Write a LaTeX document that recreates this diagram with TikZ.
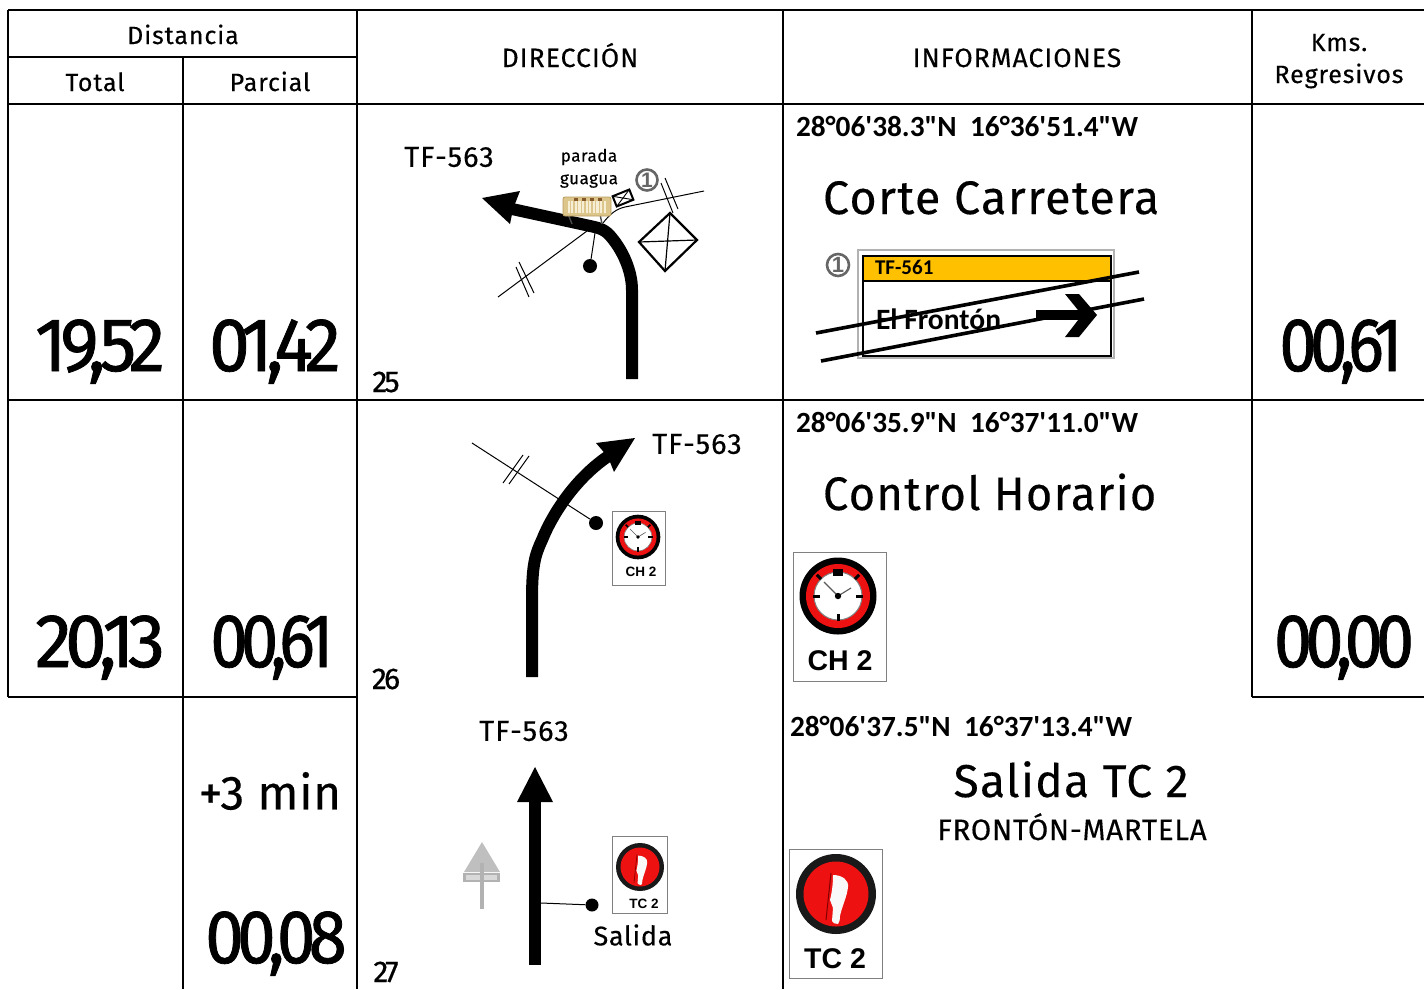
\documentclass[tikz,border=0pt]{standalone}
\usepackage{fontspec}
\setmainfont{Fira Sans}
\newfontfamily\carlito{Carlito}[BoldFont={Carlito Bold}]
\newfontfamily\arialf{Liberation Sans}
\newcommand{\fsz}[1]{\fontsize{#1}{#1}\selectfont}
\definecolor{bustan}{HTML}{DCC68C}
\definecolor{busedge}{HTML}{B89C5C}
\definecolor{busglass}{HTML}{F6EFD6}
\definecolor{signyellow}{HTML}{FFC000}
\definecolor{signred}{HTML}{EE1111}
\newcommand{\clockmark}[3]{%
\begin{scope}[shift={(#1,#2)},scale=#3]
 \fill[black] (0,0) circle (38.5);
 \fill[signred] (0,0) circle (32);
 \fill[white] (0,0) circle (24);
 \draw[black!50,line width=1pt*#3] (0,0) circle (24);
 \foreach \a in {0,180,270} {\draw[line width=3pt*#3,rotate=\a] (18,0) -- (25,0);}
 \foreach \a in {45,135} {\draw[line width=3pt*#3,rotate=\a] (24,0) -- (30,0);}
 \fill[black] (-5,-27.5) rectangle (5,-20);
 \draw[line width=1.1pt*#3,black!65] (0,0) -- (-14,-14);
 \draw[line width=1.1pt*#3,black!65] (0,0) -- (13,-8);
 \fill[black] (0,0) circle (3.2);
\end{scope}}
\newcommand{\tcmark}[3]{%
\begin{scope}[shift={(#1,#2)},scale=#3]
 \fill[black!90] (0,0) circle (40);
 \fill[signred] (0,0) circle (32.5);
 \fill[white!95!gray] (-3,-19) .. controls (6,-19) and (13,-14) .. (12,-7) .. controls (11,3) and (6,12) .. (4,22) .. controls (4,26) and (3,29) .. (2,30) .. controls (-1,30) and (-3,29) .. (-4,27) -- (-3,14) -- (-6,6) .. controls (-4,-2) and (-3,-10) .. (-3,-19) -- cycle;
 \draw[red!50!black,line width=1pt*#3] (-5,-21) -- (-10,26);
\end{scope}}
\tikzset{
 x=1pt,y=-1pt,
 rule/.style={line width=1.1pt,black},
 txt/.style={inner sep=0pt,outer sep=0pt,font=\fsz{25}},
 head/.style={txt,anchor=base,font=\fsz{25}\addfontfeatures{LetterSpace=3.5,FakeBold=.25}},
 heads/.style={txt,anchor=base,font=\fsz{26.5}\addfontfeatures{LetterSpace=4,FakeBold=.25}},
 road/.style={txt,font=\fsz{29}\addfontfeatures{LetterSpace=3.5,FakeBold=.3}},
 big/.style={txt,anchor=base,font=\fsz{76}\addfontfeatures{LetterSpace=-9,FakeBold=1,FakeStretch=#1}},
 idx/.style={txt,anchor=base,font=\fsz{30}\addfontfeatures{LetterSpace=-9,FakeBold=.7}},
 coord/.style={txt,anchor=west,font=\carlito\bfseries\fsz{29.3}},
 title/.style={txt,anchor=base west,font=\fsz{47}\addfontfeatures{LetterSpace=3,FakeBold=.3,FakeStretch=#1}},
 road line/.style={line width=12pt,black},
 thin/.style={line width=1pt,black},
 dotn/.style={circle,fill=black,inner sep=0pt,minimum size=#1},
 signbox/.style={draw=black!50,line width=1pt,fill=white},
 circnum/.style={circle,draw=black!60,line width=2.6pt,inner sep=0pt,minimum size=#1},
}
\begin{document}
\begin{tikzpicture}
\useasboundingbox (0,0) rectangle (1424,989);
% table rules
\draw[rule] (8,10) -- (1424,10);
\draw[rule] (8,57) -- (357,57);
\draw[rule] (8,104) -- (1424,104);
\draw[rule] (8,400) -- (1424,400);
\draw[rule] (8,697) -- (357,697);
\draw[rule] (1252,697) -- (1424,697);
\draw[rule] (8,10) -- (8,697);
\draw[rule] (183,57) -- (183,989);
\draw[rule] (357,10) -- (357,989);
\draw[rule] (783,10) -- (783,989);
\draw[rule] (1252,10) -- (1252,697);
% headers
\node[head] (hdist) at (183,44) {Distancia};
\node[head] (htot) at (95,91) {Total};
\node[head] (hpar) at (270,91) {Parcial};
\node[heads] (hdir) at (570,67) {DIRECCIÓN};
\node[heads] (hinf) at (1017,67) {INFORMACIONES};
\node[head] (hkms) at (1339,51) {Kms.};
\node[head] (hreg) at (1339,83) {Regresivos};
% big numbers
\node[big=.97] (t1) at (100,371) {19,52};
\node[big=.96] (p1) at (275,371) {01,42};
\node[big=.88] (k1) at (1341,371) {00,61};
\node[big=.98] (t2) at (100,667) {20,13};
\node[big=.88] (p2) at (272,667) {00,61};
\node[big=.90] (k2) at (1344,667) {00,00};
\node[big=.91] (p3) at (276,963) {00,08};
\node[txt,font=\fsz{48}\addfontfeatures{FakeBold=.3,LetterSpace=1}] (plus) at (270,791) {+3 min};
\node[idx] (n25) at (386,392) {25};
\node[idx] (n26) at (386,689) {26};
\node[idx] (n27) at (386,982) {27};
% row 1 direction
\node[road] (r1) at (449,157) {TF-563};
\node[txt,font=\fsz{17}\addfontfeatures{LetterSpace=3,FakeBold=.3}] (par) at (589,157) {parada};
\node[txt,font=\fsz{17}\addfontfeatures{LetterSpace=3,FakeBold=.3}] (gua) at (589,181) {guagua};
\coordinate (a1) at (632,379);
\draw[road line] (a1) -- (632,290) .. controls (632,270) and (622,250) .. (612,238) .. controls (606,230) and (600,228) .. (590,226) -- (512,209);
\fill[black] (482,198) -- (520,191) -- (513,209) -- (510,224) -- cycle;
\node[dotn=14pt] (d1) at (590,266) {};
\coordinate (w1a) at (498,297);
\coordinate (w1b) at (587,231);
\draw[thin] (w1a) -- (w1b);
\draw[thin] (519,262) -- (534,293);
\draw[thin] (516,267) -- (529,297);
\draw[thin] (d1) -- (595,233);
\draw[thin] (603,223) .. controls (610,214) and (616,209) .. (625,207) -- (704,191);
\draw[thin] (661,183) -- (673,213);
\draw[thin] (665,178) -- (678,209);
\draw[line width=2.2pt,line join=miter] (670,213) -- (697,240) -- (665,271) -- (639,242) -- cycle;
\draw[line width=1.2pt] (670,213) -- (665,271) (697,240) -- (639,242);
% bus
\begin{scope}
 \draw[black!70,line width=1.4pt] (568,214) -- (572,224) (600,214) -- (602,224);
 \fill[rounded corners=2pt,fill=bustan,draw=busedge,line width=.8pt] (563,197) rectangle (611,216);
 \foreach \i in {0,...,10} {\fill[busglass] (567.5+\i*3.6,201) rectangle +(2.2,12);}
 \foreach \i in {0,...,3} {\fill[brown!70!black] (574+\i*8,197.5) rectangle +(4,3);}
\end{scope}
\begin{scope}[shift={(623,198)},rotate=22]
 \draw[line width=2pt,fill=white] (-9,-5.5) rectangle (9,5.5);
 \draw[line width=.9pt] (-9,-5.5) -- (9,5.5) (-9,5.5) -- (9,-5.5);
\end{scope}
\node[circnum=21pt,font=\arialf\bfseries\fsz{21},text=black!60] (c1) at (647,180) {1};
% row 1 info
\node[coord] (g1) at (796,126) {28°06'38.3"N\ \ 16°36'51.4"W};
\node[title=.99] (ti1) at (823,214) {Corte Carretera};
\node[circnum=22pt,font=\arialf\bfseries\fsz{22},text=black!60] (c2) at (838,265) {1};
\draw[black!30,line width=1.2pt] (858,250) rectangle (1114,358);
\fill[white] (863,256) rectangle (1111,356);
\fill[signyellow] (863,256) rectangle (1111,281);
\draw[line width=1.5pt] (863,256) rectangle (1111,356) (863,281) -- (1111,281);
\node[txt,anchor=west,font=\carlito\bfseries\fsz{21}] (tf) at (875,267) {TF-561};
\node[txt,anchor=west,font=\carlito\bfseries\fsz{29.5}] (fr) at (876,319) {El Frontón};
\draw[line width=10pt] (1036,315) -- (1085,315);
\fill[black] (1065,294) -- (1079,294) -- (1097,315) -- (1079,337) -- (1065,337) -- (1082,315) -- cycle;
\draw[line width=3.6pt] (816,333) -- (1139,272);
\draw[line width=3.6pt] (821,361) -- (1144,299);
% row 2 direction
\node[road] (r2) at (697,444) {TF-563};
\coordinate (a2) at (532,677);
\draw[road line] (a2) -- (532,600) .. controls (532,565) and (535,555) .. (542,540) .. controls (552,515) and (575,478) .. (610,455);
\fill[black] (635,438) -- (596,443) -- (608,457) -- (614,472) -- cycle;
\node[dotn=14pt] (d2) at (596,523) {};
\coordinate (w2) at (472,443);
\draw[thin] (w2) -- (d2);
\draw[thin] (523,455) -- (503,483);
\draw[thin] (529,456) -- (509,484);
\draw[signbox] (612,511) rectangle (665,585);
\clockmark{638}{537}{0.58}
\node[txt,font=\arialf\bfseries\fsz{13.5}] (ch1) at (641,572) {CH 2};
% row 2 info
\node[coord] (g2) at (796,422) {28°06'35.9"N\ \ 16°37'11.0"W};
\node[title=.96] (ti2) at (823,510) {Control Horario};
\draw[signbox] (793,552) rectangle (886,681);
\clockmark{838}{596}{1}
\node[txt,font=\arialf\bfseries\fsz{28.5}] (ch2) at (840,661) {CH 2};
% row 3 direction
\node[road] (r3) at (524,731) {TF-563};
\coordinate (a3) at (535,965);
\draw[line width=12pt] (a3) -- (535,800);
\fill[black] (535,767) -- (553,802) -- (517,802) -- cycle;
\node[dotn=13pt] (d3) at (592,905) {};
\coordinate (j3) at (541,903);
\draw[thin] (j3) -- (d3);
\begin{scope}[black!25]
 \fill (482,842) -- (500,872) -- (464,872) -- cycle;
 \fill[black!30] (463,873) rectangle (500,882);
 \fill[black!15] (466,875) rectangle (497,880);
 \fill[black!30] (480,863) rectangle (484,909);
\end{scope}
\draw[signbox] (612,836) rectangle (667,913);
\tcmark{640}{867}{0.6}
\node[txt,font=\arialf\bfseries\fsz{13.5}] (tc1) at (644,904) {TC 2};
\node[txt,font=\fsz{27}\addfontfeatures{LetterSpace=2.5,FakeBold=.3}] (sal) at (633,935) {Salida};
% row 3 info
\node[coord] (g3) at (790,726) {28°06'37.5"N\ \ 16°37'13.4"W};
\node[txt,anchor=base,font=\fsz{46}\addfontfeatures{LetterSpace=3,FakeBold=.3}] (ti3) at (1071,797) {Salida TC 2};
\node[txt,anchor=base,font=\fsz{29.5}\addfontfeatures{LetterSpace=2.5,FakeBold=.25}] (fm) at (1072,840) {FRONTÓN-MARTELA};
\draw[signbox] (789,849) rectangle (882,978);
\tcmark{836}{894}{1}
\node[txt,font=\arialf\bfseries\fsz{28.5}] (tc2) at (835,959) {TC 2};
\end{tikzpicture}
\end{document}
